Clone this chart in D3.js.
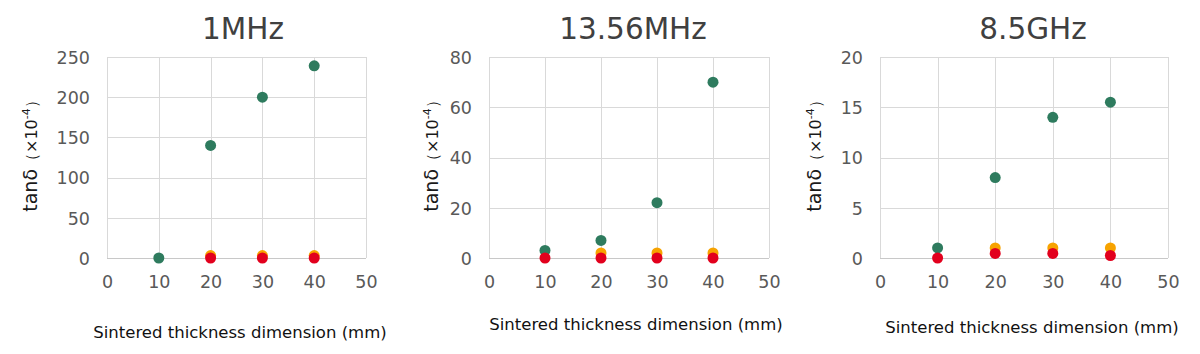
<!DOCTYPE html>
<html>
<head>
<meta charset="utf-8">
<script src="https://cdn.jsdelivr.net/npm/d3@7"></script>
<style>
  body { margin: 0; background: #fff; }
  svg { display: block; font-family: "DejaVu Sans", Verdana, sans-serif; }
  .grid line { stroke: #d9d9d9; stroke-width: 1; }
</style>
</head>
<body>
<svg id="chart" width="1200" height="354"></svg>
<script>
// thickness categories (mm)
const thickness = [10, 20, 30, 40];

// panel titles
const titles = ['1MHz', '13.56MHz', '8.5GHz'];

// tanδ (×10^-4), null = no point
const green1 = [0, 140, 200, 239];
const orange1 = [null, 3, 3, 3];
const red1 = [null, 0, 0, 0];

const green2 = [3, 7, 22, 70];
const orange2 = [null, 2, 2, 2];
const red2 = [0, 0, 0, 0];

const green3 = [1, 8, 14, 15.5];
const orange3 = [null, 1, 1, 1];
const red3 = [0, 0.45, 0.45, 0.25];

// y-axis tick labels per panel
const yTicks1 = [0, 50, 100, 150, 200, 250];
const yTicks2 = [0, 20, 40, 60, 80];
const yTicks3 = [0, 5, 10, 15, 20];
const xTicks = [0, 10, 20, 30, 40, 50];

const colors = { green: '#2e7b5e', orange: '#f7a300', red: '#e2001d' };

const panels = [
    { title: titles[0], x0: 107, x1: 366, ymax: 250, ticks: yTicks1, series: [green1, orange1, red1], titleX: 243, labelX: 31, xTitleX: 240, xTitleY: 338 },
    { title: titles[1], x0: 489, x1: 769, ymax: 80, ticks: yTicks2, series: [green2, orange2, red2], titleX: 633, labelX: 432, xTitleX: 636, xTitleY: 330 },
    { title: titles[2], x0: 880, x1: 1168, ymax: 20, ticks: yTicks3, series: [green3, orange3, red3], titleX: 1033, labelX: 815, xTitleX: 1032, xTitleY: 333 },
];

const svg = d3.select('#chart');
const plotTop = 57, plotBottom = 258;
const tickFont = '17.5px';

panels.forEach((p) => {
    const g = svg.append('g');
    const x = d3.scaleLinear().domain([0, 50]).range([p.x0, p.x1]);
    const y = d3.scaleLinear().domain([0, p.ymax]).range([plotBottom, plotTop]);

    // gridlines
    g.append('g').attr('class', 'grid')
        .selectAll('line').data(p.ticks).join('line')
        .attr('x1', p.x0).attr('x2', p.x1)
        .attr('y1', (d) => Math.round(y(d)) + 0.5).attr('y2', (d) => Math.round(y(d)) + 0.5);
    g.append('g').attr('class', 'grid')
        .selectAll('line').data(xTicks).join('line')
        .attr('x1', (d) => Math.round(x(d)) + 0.5).attr('x2', (d) => Math.round(x(d)) + 0.5)
        .attr('y1', plotTop).attr('y2', plotBottom);
    // zero axis line a bit darker
    g.append('line')
        .attr('x1', p.x0).attr('x2', p.x1)
        .attr('y1', Math.round(y(0)) + 0.5).attr('y2', Math.round(y(0)) + 0.5)
        .attr('stroke', '#c8c8c8');

    // axes (labels only)
    const yAxis = g.append('g')
        .attr('transform', `translate(${p.x0 - 17},0)`)
        .call(d3.axisLeft(y).tickValues(p.ticks).tickSize(0).tickPadding(0));
    yAxis.select('.domain').remove();

    const xAxis = g.append('g')
        .attr('transform', `translate(0,288)`)
        .call(d3.axisBottom(x).tickValues(xTicks).tickSize(0).tickPadding(0));
    xAxis.select('.domain').remove();

    [yAxis, xAxis].forEach((a) => {
        a.attr('font-family', null).attr('font-size', null);
        a.selectAll('text')
            .style('font-family', '"DejaVu Sans", Verdana, sans-serif')
            .style('font-size', tickFont)
            .attr('fill', '#595959');
    });
    yAxis.selectAll('text').attr('dy', '0.36em');
    xAxis.selectAll('text').attr('y', 0).attr('dy', 0);

    // points: green, orange, red (red on top)
    const cols = [colors.green, colors.orange, colors.red];
    p.series.forEach((vals, i) => {
        const pts = thickness.map((t, j) => ({ t, v: vals[j] })).filter((d) => d.v !== null);
        g.append('g').selectAll('circle').data(pts).join('circle')
            .attr('cx', (d) => x(d.t))
            .attr('cy', (d) => y(d.v))
            .attr('r', 5.5)
            .attr('fill', cols[i]);
    });

    // title
    g.append('text')
        .attr('x', p.titleX).attr('y', 39)
        .attr('text-anchor', 'middle')
        .attr('font-size', 29.5)
        .attr('fill', '#404040')
        .text(p.title);

    // y label
    const yl = g.append('text')
        .attr('transform', `translate(${p.labelX},152) rotate(-90)`)
        .attr('text-anchor', 'middle')
        .attr('dy', '0.35em')
        .attr('fill', '#1a1a1a');
    yl.append('tspan').attr('font-size', 19).text('tanδ');
    yl.append('tspan').attr('font-size', 16).text('（×10');
    yl.append('tspan').attr('font-size', 11).attr('dy', '-0.6em').text('-4');
    yl.append('tspan').attr('font-size', 16).attr('dy', '0.42em').text('）');

    // x title
    g.append('text')
        .attr('x', p.xTitleX).attr('y', p.xTitleY)
        .attr('text-anchor', 'middle')
        .attr('font-size', 16.5)
        .attr('fill', '#111')
        .text('Sintered thickness dimension (mm)');
});
</script>
</body>
</html>
